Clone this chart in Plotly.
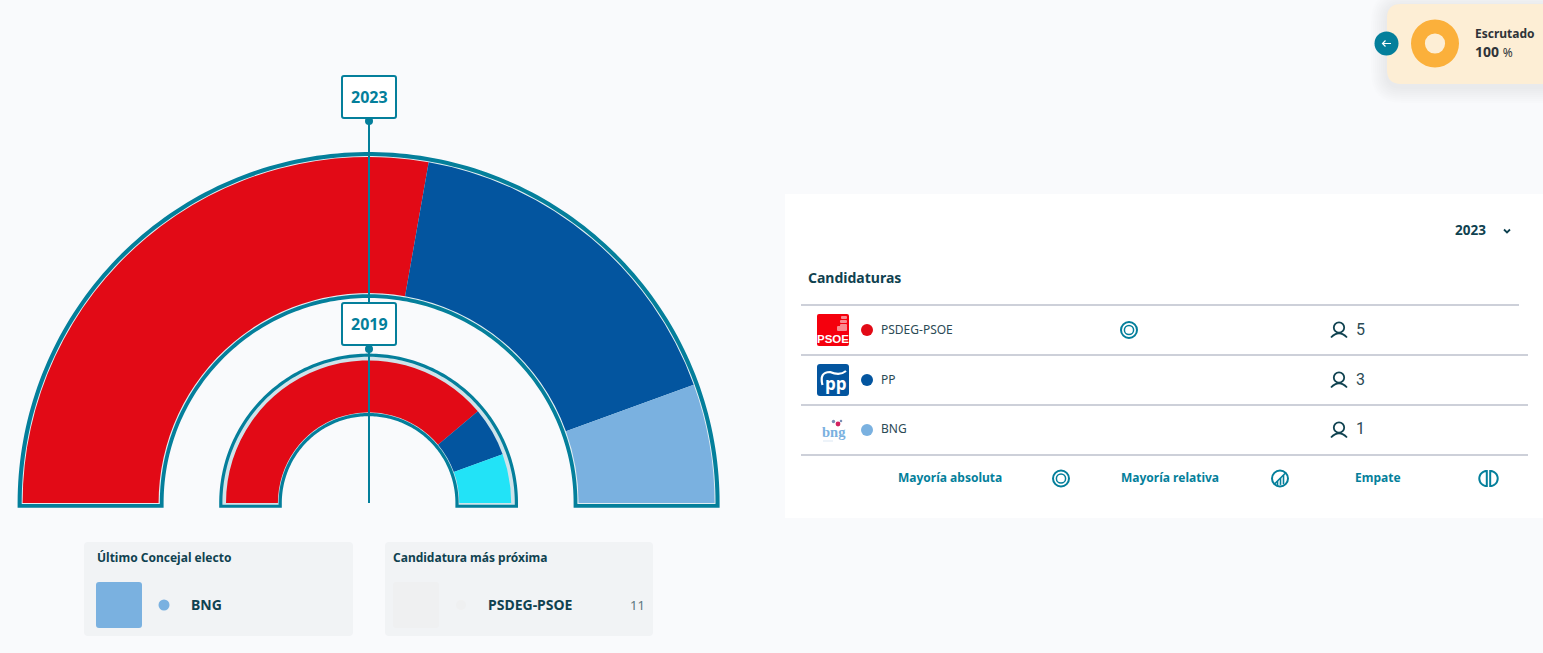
import numpy as np
import plotly.graph_objects as go

# ---- data ----
candidates = ["PSDEG-PSOE", "PP", "BNG"]
seats_2023 = [5, 3, 1]
seats_2019 = [7, 1, 1]
scrutinised_pct = [100]
last_elected = "BNG"
nearest = "PSDEG-PSOE"
nearest_votes = "11"

# ---- styles ----
colors_2023 = ["#e20a16", "#03559f", "#7ab1e0"]
colors_2019 = ["#e20a16", "#03559f", "#22e3f7"]
W, H = 1543, 653
BG = "#f9fafc"
TEAL = "#047f9b"
DARK = "#0f4250"
FONT = "Noto Sans"
CX, BY = 368.6, 503.0
AX_R = 360.0


def px(x):
    return x / W


def py(y):
    return 1 - y / H


def pt(x, y):
    return f"{px(x):.6f},{py(y):.6f}"


shapes = []
annos = []


def path(d, fill=None, line=None, lw=0, layer="below", opacity=1):
    shapes.append(dict(type="path", path=d, xref="paper", yref="paper",
                       fillcolor=fill if fill else "rgba(0,0,0,0)",
                       line=dict(color=line if line else "rgba(0,0,0,0)", width=lw),
                       layer=layer, opacity=opacity))


def rrect(x0, y0, x1, y1, r, **kw):
    d = (f"M{pt(x0 + r, y0)} L{pt(x1 - r, y0)} Q{pt(x1, y0)} {pt(x1, y0 + r)} "
         f"L{pt(x1, y1 - r)} Q{pt(x1, y1)} {pt(x1 - r, y1)} L{pt(x0 + r, y1)} "
         f"Q{pt(x0, y1)} {pt(x0, y1 - r)} L{pt(x0, y0 + r)} Q{pt(x0, y0)} {pt(x0 + r, y0)} Z")
    path(d, **kw)


def line(x0, y0, x1, y1, color, w, layer="below"):
    shapes.append(dict(type="line", xref="paper", yref="paper",
                       x0=px(x0), y0=py(y0), x1=px(x1), y1=py(y1),
                       line=dict(color=color, width=w), layer=layer))


def circle(x, y, r, fill=None, stroke=None, lw=0, layer="above"):
    shapes.append(dict(type="circle", xref="paper", yref="paper",
                       x0=px(x - r), x1=px(x + r), y0=py(y + r), y1=py(y - r),
                       fillcolor=fill if fill else "rgba(0,0,0,0)",
                       line=dict(color=stroke if stroke else "rgba(0,0,0,0)", width=lw),
                       layer=layer))


def text(x, y, s, size=12, color=DARK, anchor="left", family=FONT):
    annos.append(dict(x=px(x), y=py(y), xref="paper", yref="paper", text=s, showarrow=False,
                      xanchor=anchor, yanchor="middle", borderpad=0, borderwidth=0,
                      font=dict(family=family, size=size, color=color)))


def ring(r_out, r_in, foot_y, fill):
    t = np.linspace(np.pi, 0, 160)
    outer = [pt(CX + r_out * np.cos(a), BY - r_out * np.sin(a)) for a in t]
    inner = [pt(CX + r_in * np.cos(a), BY - r_in * np.sin(a)) for a in t[::-1]]
    d = (f"M{pt(CX - r_out, foot_y)} L" + " L".join(outer) + f" L{pt(CX + r_out, foot_y)} "
         f"L{pt(CX + r_in, foot_y)} L" + " L".join(inner) + f" L{pt(CX - r_in, foot_y)} Z")
    path(d, fill=fill)


def arc_path(cx, cy, r, a0, a1, n=24):
    t = np.radians(np.linspace(a0, a1, n))
    return "M" + " L".join(pt(cx + r * np.cos(a), cy - r * np.sin(a)) for a in t)


# ---- panels ----
rrect(785, 194, 1543, 518, 0.01, fill="#ffffff")
rrect(84, 542, 353, 636, 4, fill="#f1f3f5")
rrect(385, 542, 653, 636, 4, fill="#f1f3f5")

# orange card with a soft shadow
for grow in range(16, 0, -2):
    rrect(1387 - grow, 4 - grow + 3, 1560 + grow, 84 + grow + 3, 14 + grow, fill="#000000", opacity=0.009)
rrect(1387, 4, 1560, 84, 14, fill="#fdeed5")

# ---- hemicycle outlines (under the bars) ----
ring(351, 205, 507.7, TEAL)
ring(346.9, 208.8, 504.0, "#e3eef2")
ring(149.4, 86.8, 507.7, TEAL)
ring(146.2, 90.0, 504.8, "#cfe3ea")


def hemicycle(seats, colors, r_in, r_out, name):
    total = sum(seats)
    starts = np.cumsum([0] + seats[:-1])
    return go.Barpolar(
        theta=[(s + v / 2) * 180 / total for s, v in zip(starts, seats)],
        width=[v * 180 / total for v in seats],
        r=[r_out - r_in] * len(seats),
        base=[r_in] * len(seats),
        marker=dict(color=colors, line=dict(width=0)),
        text=candidates, name=name, subplot="polar", showlegend=False,
    )


traces = [
    hemicycle(seats_2023, colors_2023, 210, 346, "2023"),
    hemicycle(seats_2019, colors_2019, 90.7, 142.6, "2019"),
    go.Pie(values=scrutinised_pct, labels=["Escrutado"], hole=0.42, sort=False,
           marker=dict(colors=["#fbb03b"], line=dict(width=0)), textinfo="none",
           showlegend=False,
           domain=dict(x=[px(1411), px(1459)], y=[py(67.5), py(19.5)])),
]

# ---- year pointers ----
line(369, 121, 369, 503, TEAL, 2, "above")
for y0, y1, dot_y, label in [(76, 118, 121, "2023"), (303, 345, 349, "2019")]:
    circle(369, dot_y, 4, fill=TEAL)
    rrect(342, y0, 396, y1, 2, fill="#ffffff", line=TEAL, lw=2, layer="above")
    text(369, (y0 + y1) / 2 - 0.5, f"<b>{label}</b>", 16, TEAL, "center")

# ---- scrutinised card ----
circle(1386.5, 43.5, 12, fill=TEAL)
path(f"M{pt(1382.5, 43.5)} L{pt(1391, 43.5)} M{pt(1385.5, 40.5)} L{pt(1382.5, 43.5)} L{pt(1385.5, 46.5)}",
     line="#ffffff", lw=1.2, layer="above")
text(1475, 33.5, "<b>Escrutado</b>", 12, "#2f3338")
text(1475, 51.5, "<b>100</b> <span style='font-size:12px'>%</span>", 14, "#2f3338")

# ---- table ----
text(1455, 230.5, "<b>2023</b>", 13.5, DARK)
path(f"M{pt(1504, 229.5)} L{pt(1507, 232.5)} L{pt(1510, 229.5)}", line=DARK, lw=1.8, layer="above")
text(808, 277.5, "<b>Candidaturas</b>", 14, DARK)
line(801, 305, 1519, 305, "#bcc0cc", 1.6)
for y in (355, 405, 455):
    line(801, y, 1528, y, "#bcc0cc", 1.6)

row_y = [330, 380, 430]
for y, name, seats, col in zip(row_y, candidates, seats_2023, colors_2023):
    circle(867, y, 6, fill=col)
    text(881, y - 1, name, 12, "#2b4a55")
    # person icon
    circle(1339, y - 2.5, 5.2, stroke=DARK, lw=1.8)
    path(f"M{pt(1331, y + 7.5)} Q{pt(1339, y - 1)} {pt(1347, y + 7.5)}", line=DARK, lw=1.8, layer="above")
    text(1355.5, y - 1, str(seats), 16, "#2b4a55", family="Roboto")

# absolute-majority marker
circle(1129, 330, 8, stroke=TEAL, lw=2)
circle(1129, 330, 4.6, stroke=TEAL, lw=1.5)

# PSOE logo
rrect(817, 314, 849, 346, 2, fill="#f5000d", layer="above")
text(833, 339, "<b>PSOE</b>", 11.5, "#ffffff", "center", "Liberation Sans")
for x0, y0, x1, y1 in [(841, 316, 847, 319), (840, 320, 847, 323), (840, 324, 847, 327), (837, 326, 847, 331)]:
    rrect(x0, y0, x1, y1, 1, fill="#f98a8f", layer="above")

# PP logo
rrect(817, 364, 849, 396, 3, fill="#03559f", layer="above")
text(836, 383, "<b>pp</b>", 17, "#ffffff", "center", "Open Sans")
path(f"M{pt(822.5, 385)} Q{pt(819, 372)} {pt(830, 372)} Q{pt(840, 376)} {pt(846, 371)}",
     line="#ffffff", lw=2.2, layer="above")

# BNG logo
text(833.5, 431.5, "<b>bng</b>", 14.5, "#7ab1e0", "center", "Liberation Serif")
circle(838, 424, 2.4, fill="#d3225f")
circle(833.5, 421.5, 1.7, fill="#7b8fb5")
circle(841, 421, 1.3, fill="#7b8fb5")
line(823, 441, 833, 441, "#dbe7f3", 1, "above")

# ---- legend of markers ----
text(898, 477.5, "<b>Mayoría absoluta</b>", 12, TEAL)
circle(1061, 478.5, 8, stroke=TEAL, lw=2)
circle(1061, 478.5, 4.6, stroke=TEAL, lw=1.5)

text(1121, 477.5, "<b>Mayoría relativa</b>", 12, TEAL)
circle(1280, 478.5, 8, stroke=TEAL, lw=2)
path(f"M{pt(1274, 484.5)} L{pt(1286, 472.5)}", line=TEAL, lw=1.6, layer="above")
for dx, top in [(0, 481), (3, 478), (6, 475)]:
    line(1277.5 + dx, top, 1277.5 + dx, 485.5 - dx * 0.2, TEAL, 1.6, "above")

text(1355, 477.5, "<b>Empate</b>", 12, TEAL)
path(arc_path(1486.8, 478.5, 7.5, 90, 270) + " Z", line=TEAL, lw=2, layer="above")
path(arc_path(1490.2, 478.5, 7.5, -90, 90) + " Z", line=TEAL, lw=2, layer="above")

# ---- bottom panels ----
text(96.5, 557.5, "<b>Último Concejal electo</b>", 12, DARK)
rrect(96, 582, 142, 628, 3, fill=colors_2023[candidates.index(last_elected)], layer="above")
circle(164, 605, 5.5, fill=colors_2023[candidates.index(last_elected)])
text(190.5, 604.5, f"<b>{last_elected}</b>", 14, DARK)

text(393, 557.5, "<b>Candidatura más próxima</b>", 12, DARK)
rrect(393, 582, 439, 628, 3, fill="#eff0f1", layer="above")
circle(461, 605, 5, fill="#eff0f1")
text(487.5, 604.5, f"<b>{nearest}</b>", 14, DARK)
text(645, 604.5, nearest_votes, 13, "#5d7680", "right")

fig = go.Figure(traces)
fig.update_layout(
    width=W, height=H, autosize=False,
    margin=dict(l=0, r=0, t=0, b=0, pad=0),
    paper_bgcolor=BG, plot_bgcolor=BG,
    showlegend=False,
    hovermode=False,
    polar=dict(
        domain=dict(x=[px(CX - AX_R), px(CX + AX_R)], y=[py(BY), py(BY - AX_R)]),
        sector=[0, 180], bgcolor="rgba(0,0,0,0)", barmode="overlay",
        angularaxis=dict(visible=False, rotation=180, direction="clockwise"),
        radialaxis=dict(visible=False, range=[0, AX_R]),
    ),
    shapes=shapes, annotations=annos,
)
fig.write_html("out.html", config=dict(displayModeBar=False),
               post_script="document.body.style.margin='0';document.body.style.overflow='hidden';")
